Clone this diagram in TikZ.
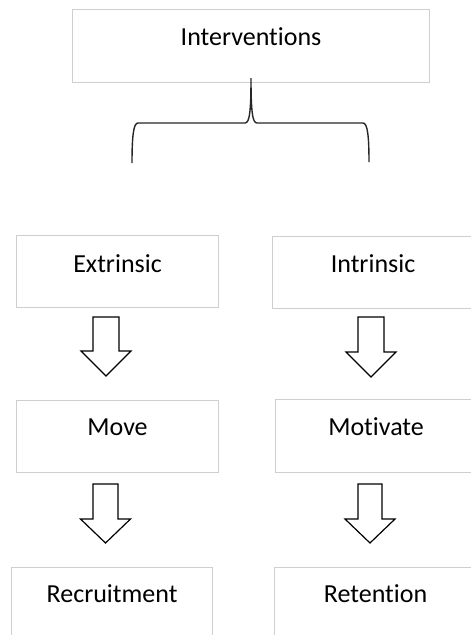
\documentclass[tikz,border=0pt]{standalone}
\usepackage{fontspec}
\setmainfont{Carlito}[Ligatures=NoCommon]
\begin{document}
\begin{tikzpicture}[x=1pt,y=-1pt,
  box/.style={draw=black!19, line width=1.1pt, rectangle, inner sep=0pt,
    anchor=north west, font=\fontsize{26}{30}\selectfont, text=black},
  brace/.style={draw=black!85, line width=1.4pt},
  blockarrow/.style={draw=black, fill=white, line width=1.2pt, line join=miter}]
\useasboundingbox (0,0) rectangle (471,635);
\clip (0,0) rectangle (471,635);

% boxes: text height/depth place the baseline inside each frame
\node[box, minimum width=357pt, text height=36pt, text depth=37pt] (int) at (72,9) {Interventions};
\node[box, minimum width=202pt, text height=37pt, text depth=35pt] (ext) at (16,235) {Extrinsic};
\node[box, minimum width=201pt, text height=36pt, text depth=36pt] (intr) at (272,236) {Intrinsic};
\node[box, minimum width=202pt, text height=35pt, text depth=37pt] (move) at (16,400) {Move};
\node[box, minimum width=201pt, text height=36pt, text depth=37pt] (mot) at (275,399) {Motivate};
\node[box, minimum width=201pt, text height=35pt, text depth=38pt] (rec) at (11,567) {Recruitment};
\node[box, minimum width=202pt, text height=35pt, text depth=38pt] (ret) at (274,567) {Retention};

% curly brace under the top box
\coordinate (bl) at (132,163);
\coordinate (bt) at (251,78);
\coordinate (br) at (369,162);
\draw[brace] (bl) .. controls (132,136) and (133.5,123) .. (138,123)
  -- (245,123) .. controls (249.5,123) and (251,112) .. (bt)
  .. controls (251,112) and (252.5,123) .. (257,123)
  -- (363,123) .. controls (367.5,123) and (369,136) .. (br);

% hollow block arrows: centre x, top y, shaft/head half widths, shoulder and tip y
\foreach \cx/\ty/\sw/\hw/\sy/\tipy in {106/317/13/25/351/376, 371/317/13/25/352/377,
                                     105.5/484/12.5/25/519/543, 370/484/12/25/519/543}{
  \draw[blockarrow] (\cx-\sw,\ty) -- (\cx+\sw,\ty) -- (\cx+\sw,\sy) -- (\cx+\hw,\sy)
    -- (\cx,\tipy) -- (\cx-\hw,\sy) -- (\cx-\sw,\sy) -- cycle;
}
\end{tikzpicture}
\end{document}
